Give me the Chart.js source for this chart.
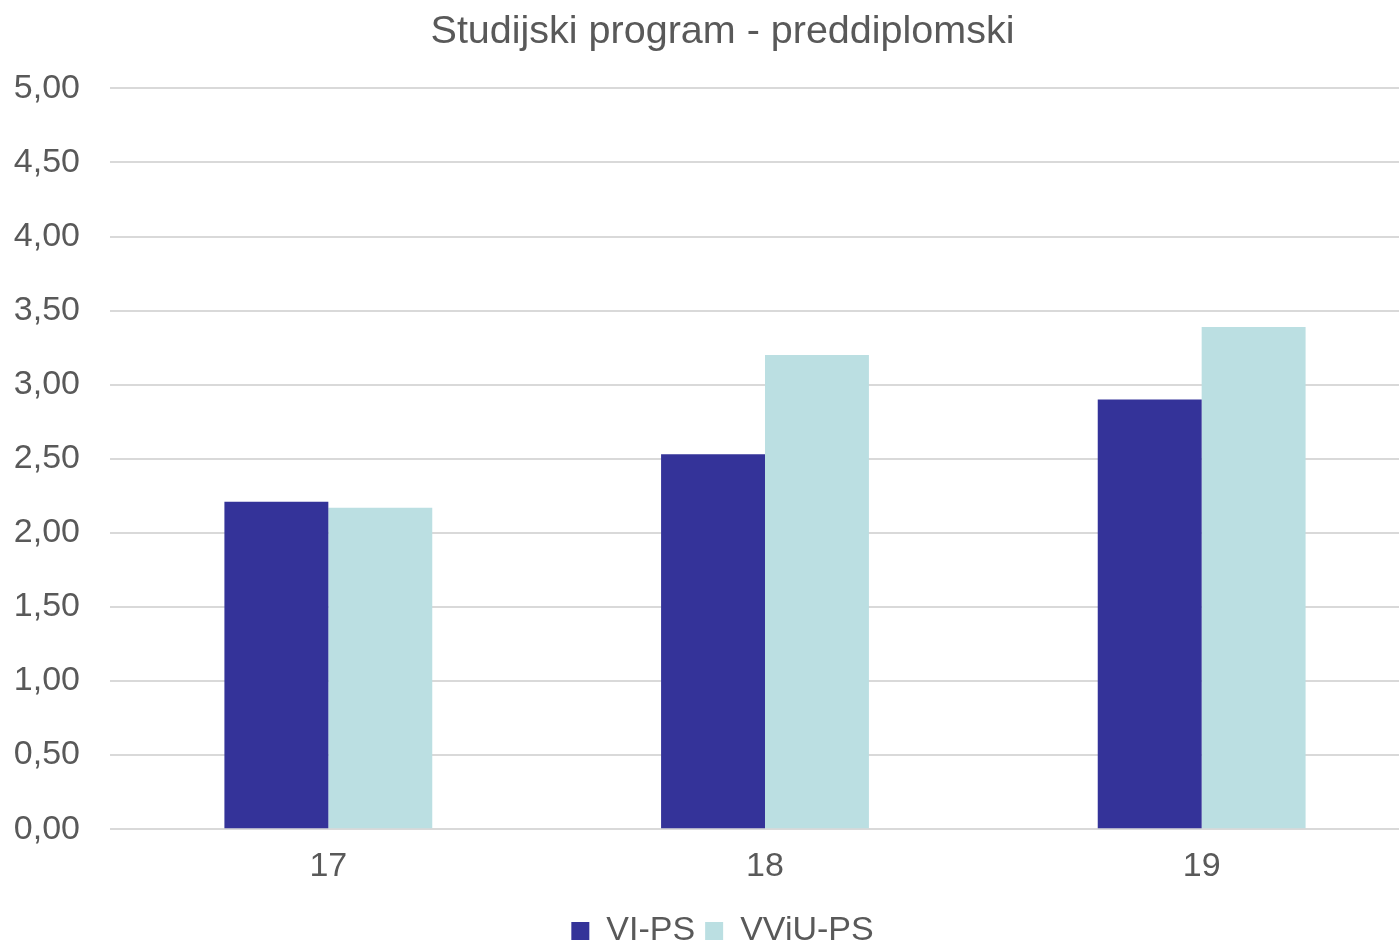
<!DOCTYPE html>
<html>
<head>
<meta charset="utf-8">
<script src="https://cdn.jsdelivr.net/npm/chart.js@4"></script>
<style>
html,body{margin:0;padding:0;background:#fff;overflow:hidden;}
#wrap{width:1446px;height:945px;}
</style>
</head>
<body>
<div id="wrap"><canvas id="c" width="1446" height="945"></canvas></div>
<script>
const categories = ["17", "18", "19"];
const seriesNames = ["VI-PS", "VViU-PS"];
const viPS = [2.21, 2.53, 2.90];
const vviuPS = [2.17, 3.20, 3.39];
const titleText = "Studijski program - preddiplomski";

const FONT = "'Liberation Sans', Arial, sans-serif";
const TXT = "#595959";

new Chart(document.getElementById('c'), {
  type: 'bar',
  data: {
    labels: categories,
    datasets: [
      { label: seriesNames[0], data: viPS, backgroundColor: '#343399', borderWidth: 0 },
      { label: seriesNames[1], data: vviuPS, backgroundColor: '#bbdfe2', borderWidth: 0 }
    ]
  },
  options: {
    responsive: false,
    animation: false,
    devicePixelRatio: 1,
    layout: { padding: { left: 12, right: 13, top: 8, bottom: -13 } },
    datasets: { bar: { categoryPercentage: 0.476, barPercentage: 1.0 } },
    plugins: {
      title: {
        display: true, text: titleText, color: TXT,
        font: { family: FONT, size: 39.5, weight: 'normal' },
        padding: { top: 0, bottom: 33 }
      },
      legend: {
        position: 'bottom',
        labels: {
          color: TXT, boxWidth: 18, boxHeight: 18, padding: 10,
          font: { family: FONT, size: 34 }
        }
      },
      tooltip: { enabled: false }
    },
    scales: {
      x: {
        grid: { display: false, drawTicks: false },
        border: { display: false },
        ticks: { color: TXT, font: { family: FONT, size: 34 }, padding: 17 }
      },
      y: {
        min: 0, max: 5,
        afterFit: s => { s.width = 98; },
        grid: { color: '#d9d9d9', lineWidth: 2, drawTicks: false },
        border: { display: false },
        ticks: {
          stepSize: 0.5, color: TXT, padding: 30,
          font: { family: FONT, size: 34 },
          callback: v => v.toFixed(2).replace('.', ',')
        }
      },
      yRight: {
        position: 'right',
        min: 0, max: 5,
        afterFit: s => { s.width = 13; },
        grid: { display: false, drawTicks: false },
        border: { display: false },
        ticks: { display: false }
      }
    }
  }
});
</script>
</body>
</html>
